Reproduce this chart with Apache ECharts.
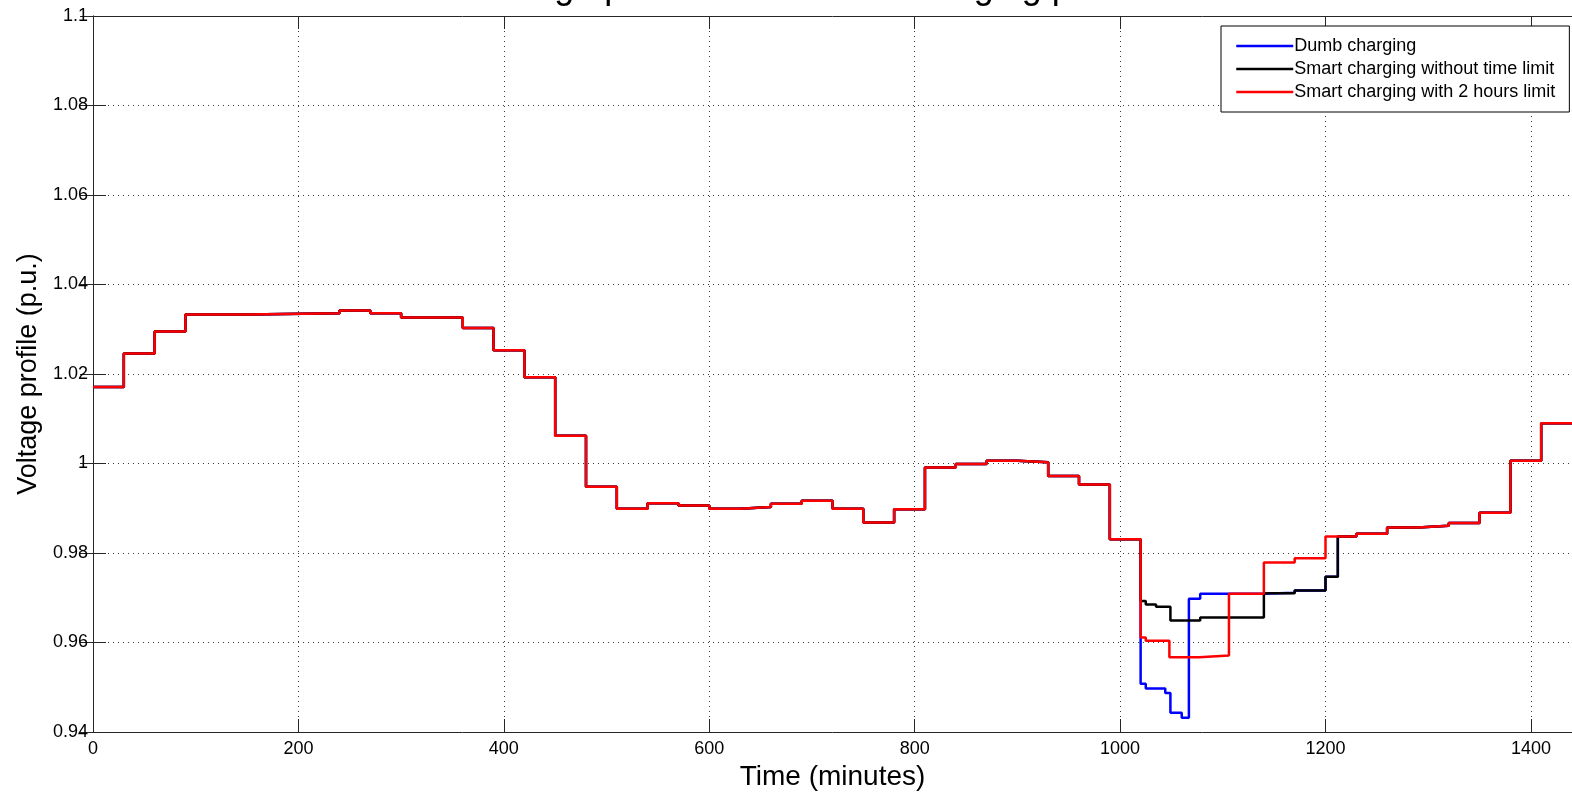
<!DOCTYPE html>
<html>
<head>
<meta charset="utf-8">
<script src="https://cdn.jsdelivr.net/npm/echarts@6/dist/echarts.min.js"></script>
<style>
  html, body { margin: 0; padding: 0; background: #fff; }
  #chart { width: 1572px; height: 798px; }
</style>
</head>
<body>
<div id="chart"></div>
<script>
// shared part of the profile (all three cases are identical before 1020 min)
const baseTimes = [0, 30, 60, 90, 150, 240, 270, 300, 360, 390, 420, 450, 480, 510, 540, 570,
  600, 630, 660, 690, 720, 750, 780, 810, 840, 870, 900, 930, 960, 990];
const baseVolts = [1.0171, 1.0246, 1.0295, 1.0333, 1.0336, 1.0342, 1.0336, 1.0326, 1.0303, 1.0253,
  1.0193, 1.0062, 0.9948, 0.9899, 0.9911, 0.9906, 0.9899, 0.9903, 0.9910, 0.9917, 0.9899, 0.9868,
  0.9898, 0.9991, 0.9999, 1.0006, 1.0003, 0.9972, 0.9953, 0.9831];

// evening part, one per charging case
const dumbTimes = [1020, 1025, 1044, 1049, 1060, 1067, 1078, 1140, 1170, 1200, 1212, 1230, 1260,
  1290, 1320, 1350, 1380, 1410, 1440];
const dumbVolts = [0.9508, 0.9497, 0.9487, 0.9443, 0.9432, 0.9698, 0.9709, 0.9711, 0.9716, 0.9747,
  0.9837, 0.9843, 0.9857, 0.9861, 0.9867, 0.9890, 1.0006, 1.0090, 1.0090];

const smartTimes = [1020, 1025, 1035, 1049, 1078, 1140, 1170, 1200, 1212, 1230, 1260, 1290, 1320,
  1350, 1380, 1410, 1440];
const smartVolts = [0.9693, 0.9685, 0.9680, 0.9649, 0.9656, 0.9710, 0.9716, 0.9747, 0.9837, 0.9843,
  0.9857, 0.9861, 0.9867, 0.9890, 1.0006, 1.0090, 1.0090];

const limitTimes = [1020, 1025, 1048, 1077, 1106, 1140, 1170, 1200, 1230, 1260, 1290, 1320, 1350,
  1380, 1410, 1440];
const limitVolts = [0.9611, 0.9604, 0.9567, 0.9571, 0.9709, 0.9779, 0.9788, 0.9837, 0.9843, 0.9857,
  0.9861, 0.9867, 0.9890, 1.0006, 1.0090, 1.0090];

const seriesNames = ['Dumb charging', 'Smart charging without time limit', 'Smart charging with 2 hours limit'];
const seriesColors = ['#0000ff', '#000000', '#ff0000'];

const xTicks = { min: 0, max: 1440, interval: 200 };
const yTicks = { min: 0.94, max: 1.1, interval: 0.02 };

function pairs(ts, vs) {
  return ts.map((t, i) => [t, vs[i]]);
}
const base = pairs(baseTimes, baseVolts);
const tails = [pairs(dumbTimes, dumbVolts), pairs(smartTimes, smartVolts), pairs(limitTimes, limitVolts)];

const font = "'Liberation Sans', Arial, Helvetica, sans-serif";
const axisCol = '#262626';

const chart = echarts.init(document.getElementById('chart'), null, { renderer: 'canvas' });

const dotted = { show: true, lineStyle: { color: '#3a3a3a', width: 1, type: [1, 4] } };

const option = {
  animation: false,
  backgroundColor: '#fff',
  grid: { left: 93, top: 16, width: 1489, bottom: 66, containLabel: false },
  graphic: [{
    type: 'text',
    x: 828,
    y: 6,
    style: {
      text: 'Voltage profile for different charging patterns',
      font: '36px ' + font,
      fill: '#000',
      align: 'center',
      verticalAlign: 'bottom'
    }
  }],
  legend: {
    orient: 'vertical',
    left: 1221,
    top: 26,
    padding: [9, 14, 9, 14],
    itemWidth: 57,
    itemHeight: 14,
    itemGap: 1,
    backgroundColor: '#fff',
    borderColor: '#000',
    borderWidth: 1,
    borderRadius: 0,
    itemStyle: { opacity: 0 },
    lineStyle: { width: 2.5 },
    textStyle: { fontFamily: font, fontSize: 18, lineHeight: 22, color: '#000', padding: [0, 0, 0, -4] },
    data: seriesNames
  },
  xAxis: [{
    type: 'value',
    min: xTicks.min,
    max: xTicks.max,
    interval: xTicks.interval,
    name: 'Time (minutes)',
    nameLocation: 'middle',
    nameGap: 30,
    nameTextStyle: { fontFamily: font, fontSize: 28, color: '#000' },
    axisLine: { show: true, lineStyle: { color: axisCol, width: 1 } },
    axisTick: { show: true, inside: true, length: 13, lineStyle: { color: axisCol } },
    axisLabel: {
      fontFamily: font, fontSize: 18, color: '#000', margin: 8, showMaxLabel: false,
      formatter: v => String(v)
    },
    splitLine: dotted
  }, {
    type: 'value',
    position: 'top',
    min: xTicks.min,
    max: xTicks.max,
    interval: xTicks.interval,
    axisLine: { show: true, lineStyle: { color: axisCol, width: 1 } },
    axisTick: { show: true, inside: true, length: 13, lineStyle: { color: axisCol } },
    axisLabel: { show: false },
    splitLine: { show: false }
  }],
  yAxis: [{
    type: 'value',
    min: yTicks.min,
    max: yTicks.max,
    interval: yTicks.interval,
    name: 'Voltage profile (p.u.)',
    nameLocation: 'middle',
    nameGap: 50,
    nameTextStyle: { fontFamily: font, fontSize: 27, color: '#000' },
    axisLine: { show: true, lineStyle: { color: axisCol, width: 1 } },
    axisTick: { show: true, inside: true, length: 13, lineStyle: { color: axisCol } },
    axisLabel: {
      fontFamily: font, fontSize: 18, color: '#000', margin: 5,
      formatter: v => String(+v.toFixed(2))
    },
    splitLine: dotted
  }, {
    type: 'value',
    position: 'right',
    min: yTicks.min,
    max: yTicks.max,
    interval: yTicks.interval,
    axisLine: { show: true, lineStyle: { color: axisCol, width: 1 } },
    axisTick: { show: true, inside: true, length: 13, lineStyle: { color: axisCol } },
    axisLabel: { show: false },
    splitLine: { show: false }
  }],
  series: seriesNames.map((name, i) => ({
    name: name,
    type: 'line',
    step: 'end',
    symbol: 'none',
    color: seriesColors[i],
    lineStyle: { color: seriesColors[i], width: 2.5 },
    data: base.concat(tails[i]),
    z: 2 + i
  }))
};

chart.setOption(option);
</script>
</body>
</html>
